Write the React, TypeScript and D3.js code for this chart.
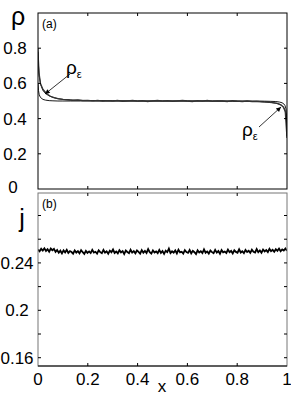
import React, { useEffect, useRef } from "react";
import * as d3 from "d3";

// density profiles, panel (a)
const rhoX = [0, 0.002, 0.005, 0.01, 0.02, 0.03, 0.045, 0.06, 0.08, 0.1, 0.13, 0.17, 0.22, 0.3, 0.4, 0.5, 0.6, 0.7, 0.78, 0.84, 0.88, 0.91, 0.935, 0.955, 0.97, 0.98, 0.987, 0.992, 0.996, 0.998, 1];
const rhoOuter = [0.8, 0.7, 0.64, 0.595, 0.56, 0.543, 0.529, 0.52, 0.513, 0.509, 0.506, 0.504, 0.502, 0.501, 0.5, 0.5, 0.5, 0.5, 0.499, 0.498, 0.497, 0.495, 0.492, 0.488, 0.482, 0.474, 0.463, 0.448, 0.42, 0.38, 0.3];
const rhoInner = [0.6, 0.56, 0.535, 0.52, 0.509, 0.505, 0.502, 0.501, 0.5, 0.5, 0.5, 0.5, 0.5, 0.5, 0.5, 0.5, 0.5, 0.5, 0.5, 0.5, 0.5, 0.499, 0.498, 0.497, 0.494, 0.49, 0.484, 0.474, 0.455, 0.42, 0.3];

// simulation density (noisy)
const simX = [0, 0.004, 0.01, 0.02, 0.035, 0.05, 0.065, 0.08, 0.1, 0.12, 0.14, 0.16, 0.18, 0.2, 0.22, 0.24, 0.26, 0.28, 0.3, 0.32, 0.34, 0.36, 0.38, 0.4, 0.42, 0.44, 0.46, 0.48, 0.5, 0.52, 0.54, 0.56, 0.58, 0.6, 0.62, 0.64, 0.66, 0.68, 0.7, 0.72, 0.74, 0.76, 0.78, 0.8, 0.82, 0.84, 0.86, 0.88, 0.9, 0.92, 0.94, 0.96, 0.975, 0.985, 0.993, 1];
const simRho = [0.78, 0.66, 0.6, 0.566, 0.541, 0.527, 0.519, 0.514, 0.509, 0.507, 0.504, 0.506, 0.502, 0.504, 0.501, 0.503, 0.499, 0.502, 0.5, 0.503, 0.498, 0.501, 0.504, 0.499, 0.502, 0.497, 0.501, 0.503, 0.499, 0.502, 0.498, 0.501, 0.504, 0.5, 0.497, 0.502, 0.499, 0.503, 0.498, 0.501, 0.5, 0.497, 0.502, 0.499, 0.497, 0.5, 0.496, 0.498, 0.495, 0.494, 0.491, 0.486, 0.478, 0.466, 0.44, 0.29];

// current, panel (b), evenly spaced over [0,1]
const jVals = [
  0.2512, 0.2498, 0.2519, 0.2504, 0.2523, 0.2501, 0.2516, 0.2495, 0.2521, 0.2507, 0.2518, 0.2493,
  0.2509, 0.2486, 0.2503, 0.248, 0.2506, 0.2489, 0.2511, 0.2484, 0.25, 0.2492, 0.2478, 0.2505,
  0.2487, 0.2499, 0.2481, 0.2508, 0.249, 0.2476, 0.2502, 0.2485, 0.2497, 0.2483, 0.251, 0.2488,
  0.2494, 0.2479, 0.2506, 0.2491, 0.2482, 0.2509, 0.2486, 0.2498, 0.2477, 0.2503, 0.249, 0.2513,
  0.2484, 0.2496, 0.248, 0.2507, 0.2489, 0.25, 0.2475, 0.2504, 0.2492, 0.2483, 0.2511, 0.2487,
  0.2499, 0.2481, 0.2505, 0.2493, 0.2478, 0.2508, 0.2486, 0.2501, 0.2484, 0.2516, 0.249, 0.2479,
  0.2506, 0.2488, 0.2497, 0.2482, 0.251, 0.2485, 0.25, 0.2476, 0.2503, 0.2491, 0.252, 0.2483,
  0.2498, 0.2487, 0.2505, 0.248, 0.2512, 0.2489, 0.2494, 0.2478, 0.2507, 0.2492, 0.2485, 0.2509,
  0.2481, 0.2502, 0.249, 0.2474, 0.2506, 0.2488, 0.2499, 0.2483, 0.2514, 0.2486, 0.2497, 0.2479,
  0.2504, 0.2491, 0.2482, 0.251, 0.2487, 0.25, 0.2477, 0.2508, 0.2489, 0.2495, 0.2484, 0.2512,
  0.249, 0.2501, 0.248, 0.2506, 0.2493, 0.2486, 0.2515, 0.2488, 0.2499, 0.2482, 0.2509, 0.2492,
  0.2503, 0.2485, 0.2511, 0.2494, 0.2488, 0.2517, 0.249, 0.2505, 0.2486, 0.2513, 0.2497, 0.2508,
  0.2491, 0.2519, 0.2499, 0.251, 0.2494, 0.2516, 0.2502, 0.2521, 0.2498, 0.2514, 0.2505, 0.2522,
  0.2503,
];

const xTicks = [0, 0.2, 0.4, 0.6, 0.8, 1];
const rhoTicks = [0, 0.2, 0.4, 0.6, 0.8];
const jTicks = [0.16, 0.2, 0.24];
const jMinor = [0.16, 0.18, 0.2, 0.22, 0.24, 0.26, 0.28];

const W = 291;
const H = 396;
const FONT = "'Liberation Sans', Arial, Helvetica, sans-serif";

export default function App() {
  const ref = useRef<SVGSVGElement>(null);

  useEffect(() => {
    const svg = d3.select(ref.current);
    svg.selectAll("*").remove();

    const x = d3.scaleLinear().domain([0, 1]).range([38, 287]);
    const yA = d3.scaleLinear().domain([0, 1]).range([189, 13]);
    const yB = d3.scaleLinear().domain([0.153, 0.299]).range([366, 193]);

    const defs = svg.append("defs");
    defs.append("marker")
      .attr("id", "head")
      .attr("viewBox", "0 0 10 10")
      .attr("refX", 10).attr("refY", 5)
      .attr("markerWidth", 8).attr("markerHeight", 6)
      .attr("orient", "auto")
      .append("path").attr("d", "M0,0 L10,5 L0,10 z").attr("fill", "#000");

    // ---- panel (a)
    const a = svg.append("g");
    const clipA = defs.append("clipPath").attr("id", "clipA");
    clipA.append("rect").attr("x", 38).attr("y", 13).attr("width", 249).attr("height", 176);

    const lineA = (xs: number[], ys: number[]) =>
      d3.line<number>().x((_, i) => x(xs[i])).y((d) => yA(d))(ys);

    const curves = a.append("g").attr("clip-path", "url(#clipA)").attr("fill", "none");
    curves.append("path").attr("d", lineA(rhoX, rhoInner)).attr("stroke", "#000").attr("stroke-width", 0.9);
    curves.append("path").attr("d", lineA(rhoX, rhoOuter)).attr("stroke", "#000").attr("stroke-width", 0.9);
    curves.append("path").attr("d", lineA(simX, simRho)).attr("stroke", "#333").attr("stroke-width", 1.3);

    a.append("rect").attr("x", 38).attr("y", 13).attr("width", 249).attr("height", 176)
      .attr("fill", "none").attr("stroke", "#000").attr("stroke-width", 1);

    const tl = 3;
    rhoTicks.filter((t) => t > 0).forEach((t) => {
      a.append("line").attr("x1", 38).attr("x2", 38 + tl).attr("y1", yA(t)).attr("y2", yA(t)).attr("stroke", "#000");
      a.append("line").attr("x1", 287).attr("x2", 287 - tl).attr("y1", yA(t)).attr("y2", yA(t)).attr("stroke", "#000");
    });
    xTicks.filter((t) => t > 0 && t < 1).forEach((t) => {
      a.append("line").attr("x1", x(t)).attr("x2", x(t)).attr("y1", 13).attr("y2", 13 + tl).attr("stroke", "#000");
      a.append("line").attr("x1", x(t)).attr("x2", x(t)).attr("y1", 189).attr("y2", 189 - tl).attr("stroke", "#000");
    });
    a.selectAll("text.tick").data(rhoTicks).join("text")
      .attr("class", "tick")
      .attr("x", (d) => (d === 0 ? 13 : 15)).attr("y", (d) => yA(d) + (d === 0 ? 4 : 6))
      .attr("text-anchor", "middle")
      .attr("font-size", 17).attr("font-family", FONT)
      .text((d) => (d === 0 ? "0" : d3.format(".1f")(d)));

    a.append("text").attr("x", 18).attr("y", 25).attr("text-anchor", "middle")
      .attr("font-size", 25).attr("font-family", FONT).text("ρ");
    a.append("text").attr("x", 42).attr("y", 28)
      .attr("font-size", 12).attr("font-family", FONT).text("(a)");

    // ρ_ε annotations
    const ann = (tx: number, ty: number, x1: number, y1: number, x2: number, y2: number) => {
      const t = a.append("text").attr("x", tx).attr("y", ty).attr("font-family", FONT);
      t.append("tspan").attr("font-size", 19).text("ρ");
      t.append("tspan").attr("font-size", 11).attr("dy", 4).text("ε");
      a.append("line").attr("x1", x1).attr("y1", y1).attr("x2", x2).attr("y2", y2)
        .attr("stroke", "#000").attr("stroke-width", 0.8).attr("marker-end", "url(#head)");
    };
    ann(66, 74, 70, 74, 45, 94);
    ann(242, 136, 259, 127, 281, 107);

    // ---- panel (b)
    const b = svg.append("g");
    const clipB = defs.append("clipPath").attr("id", "clipB");
    clipB.append("rect").attr("x", 38).attr("y", 193).attr("width", 249).attr("height", 173);

    const jLine = d3.line<number>()
      .x((_, i) => x(i / (jVals.length - 1)))
      .y((d) => yB(d));
    b.append("path").attr("clip-path", "url(#clipB)").attr("d", jLine(jVals))
      .attr("fill", "none").attr("stroke", "#000").attr("stroke-width", 1.8);

    b.append("rect").attr("x", 38).attr("y", 193).attr("width", 249).attr("height", 173)
      .attr("fill", "none").attr("stroke", "#777").attr("stroke-width", 1);
    b.append("line").attr("x1", 38).attr("x2", 287).attr("y1", 366).attr("y2", 366).attr("stroke", "#000");

    jMinor.forEach((t) => {
      b.append("line").attr("x1", 38).attr("x2", 38 + tl).attr("y1", yB(t)).attr("y2", yB(t)).attr("stroke", "#000");
      b.append("line").attr("x1", 287).attr("x2", 287 - tl).attr("y1", yB(t)).attr("y2", yB(t)).attr("stroke", "#000");
    });
    xTicks.filter((t) => t > 0 && t < 1).forEach((t) => {
      b.append("line").attr("x1", x(t)).attr("x2", x(t)).attr("y1", 193).attr("y2", 193 + tl).attr("stroke", "#000");
      b.append("line").attr("x1", x(t)).attr("x2", x(t)).attr("y1", 366).attr("y2", 366 - tl).attr("stroke", "#000");
    });
    b.selectAll("text.tick").data(jTicks).join("text")
      .attr("class", "tick")
      .attr("x", 17).attr("y", (d) => yB(d) + 6)
      .attr("text-anchor", "middle")
      .attr("font-size", 17).attr("font-family", FONT)
      .text((d) => String(d));

    b.append("text").attr("x", 22).attr("y", 227).attr("text-anchor", "middle")
      .attr("font-size", 25).attr("font-family", FONT).text("j");
    b.append("text").attr("x", 42).attr("y", 208)
      .attr("font-size", 12).attr("font-family", FONT).text("(b)");

    // x axis labels
    b.selectAll("text.xt").data(xTicks).join("text")
      .attr("class", "xt")
      .attr("x", (d) => x(d)).attr("y", 385)
      .attr("text-anchor", "middle")
      .attr("font-size", 17).attr("font-family", FONT)
      .text((d) => (d === 0 || d === 1 ? String(d) : d3.format(".1f")(d)));
    b.append("text").attr("x", 162).attr("y", 392).attr("text-anchor", "middle")
      .attr("font-size", 17).attr("font-family", FONT).text("x");
  }, []);

  return (
    <svg ref={ref} width={W} height={H} viewBox={`0 0 ${W} ${H}`}
      style={{ position: "absolute", left: 0, top: 0, background: "#fff" }} />
  );
}
